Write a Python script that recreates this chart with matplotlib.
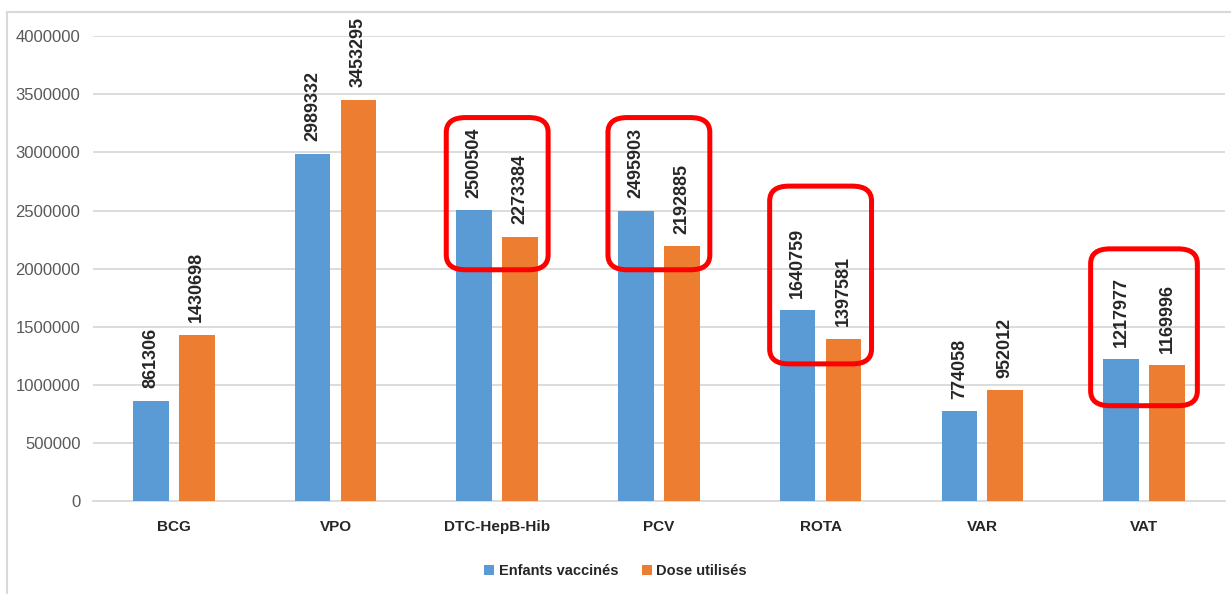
import matplotlib.pyplot as plt
import matplotlib.patches as patches
import numpy as np

vaccins = ["BCG", "VPO", "DTC-HepB-Hib", "PCV", "ROTA", "VAR", "VAT"]
enfants_vaccines = [861306, 2989332, 2500504, 2495903, 1640759, 774058, 1217977]
doses_utilisees = [1430698, 3453295, 2273384, 2192885, 1397581, 952012, 1169996]
yticks = [0, 500000, 1000000, 1500000, 2000000, 2500000, 3000000, 3500000, 4000000]

bleu = "#5B9BD5"
orange = "#ED7D31"
police = ["Liberation Sans", "DejaVu Sans"]

fig = plt.figure(figsize=(12.31, 5.94), dpi=100)
ax = fig.add_axes([0.0755, 0.1566, 0.9195, 0.7824])

x = np.arange(len(vaccins))
w = 0.22
off = 0.142

b1 = ax.bar(x - off, enfants_vaccines, w, color=bleu, label="Enfants vaccinés", zorder=3)
b2 = ax.bar(x + off, doses_utilisees, w, color=orange, label="Dose utilisés", zorder=3)

for bars, vals in ((b1, enfants_vaccines), (b2, doses_utilisees)):
    for rect, v in zip(bars, vals):
        ax.annotate(str(v), (rect.get_x() + rect.get_width() / 2, v),
                    xytext=(0, 9), textcoords="offset points",
                    rotation=90, ha="center", va="bottom",
                    fontsize=13, fontweight="bold", color="#262626",
                    family=police, annotation_clip=False)

# cadres rouges : (index du groupe, demi-largeur, bas, haut)
cadres = [(2, 0.315, 1.99e6, 3.30e6),
          (3, 0.315, 1.99e6, 3.30e6),
          (4, 0.315, 1.18e6, 2.71e6),
          (6, 0.33, 0.82e6, 2.17e6)]
for i, hw, bas, haut in cadres:
    box = patches.FancyBboxPatch((i - hw, bas), 2 * hw, haut - bas,
                                 boxstyle="round,pad=0,rounding_size=0.12",
                                 mutation_aspect=1.06e6,
                                 fill=False, edgecolor="#FF0000", linewidth=3.6,
                                 zorder=5, clip_on=False)
    ax.add_patch(box)

ax.set_xlim(-0.5, len(vaccins) - 0.5)
ax.set_ylim(0, 4000000)
ax.set_yticks(yticks)
ax.set_yticklabels([str(t) for t in yticks], fontsize=12, color="#595959", family=police)
ax.set_xticks(x)
ax.set_xticklabels(vaccins, fontsize=11, fontweight="bold", color="#262626", family=police)
ax.tick_params(axis="both", length=0)
ax.tick_params(axis="x", pad=14)
ax.tick_params(axis="y", pad=9)
ax.grid(axis="y", color="#D9D9D9", linewidth=1.3, zorder=0)
for s in ["top", "right", "left"]:
    ax.spines[s].set_visible(False)
ax.spines["bottom"].set_color("#D9D9D9")
ax.spines["bottom"].set_linewidth(1.3)

leg = fig.legend(handles=[b1, b2], loc="center", bbox_to_anchor=(0.5, 0.039),
                 ncol=2, frameon=False, handlelength=0.7,
                 handleheight=0.7, handletextpad=0.3, columnspacing=1.6,
                 prop={"family": police, "size": 10.5, "weight": "bold"})
for t in leg.get_texts():
    t.set_color("#262626")

# bordure du graphique (haut et gauche)
fig.add_artist(patches.Rectangle((7 / 1231, -0.1), 1.2, (594 - 12) / 594 + 0.1,
                                 transform=fig.transFigure, fill=False,
                                 edgecolor="#D9D9D9", linewidth=1.5))

fig.savefig("out.png", dpi=100)
